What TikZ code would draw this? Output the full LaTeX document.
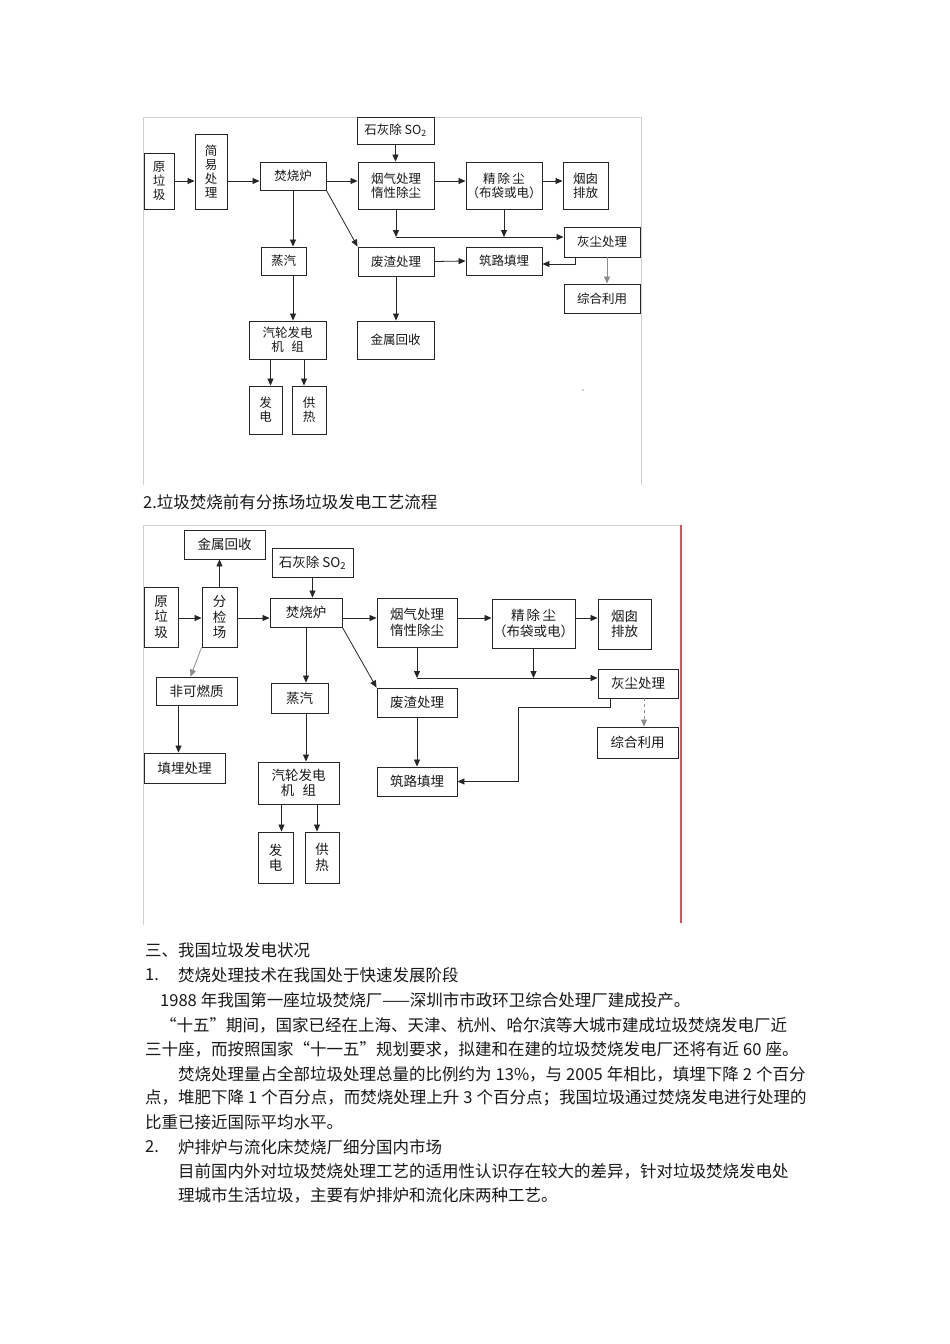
\documentclass[tikz,border=0pt]{standalone}
\usepackage{fontspec}
\newfontfamily\cjk{Noto Sans CJK SC}
\usetikzlibrary{arrows.meta}
\XeTeXlinebreaklocale "zh"
\XeTeXlinebreakskip=0pt plus 2pt minus 0.5pt
\definecolor{frameRed}{RGB}{214,86,86}
\newcommand{\spreadline}[2]{\hbox to #1{#2}}
\newcommand{\gapsp}{\kern4pt}

\begin{document}
\begin{tikzpicture}[x=1pt, y=-1pt,
    % Styles
    box/.style={rectangle, draw=black!85, line width=0.9pt, inner sep=0pt, align=center, text=black!90, font=\cjk\fontsize{12.5}{14}\selectfont},
    bigbox/.style={box, font=\cjk\fontsize{13.5}{15.5}\selectfont},
    arrow/.style={-{Triangle[length=7pt, width=6pt]}, line width=0.8pt, black!85},
    lightarrow/.style={arrow, black!45},
    frame/.style={black!18, line width=0.8pt},
    para/.style={anchor=west, inner sep=0pt, text=black!90, font=\cjk\fontsize{16.5}{20}\selectfont},
]
\useasboundingbox (0,0) rectangle (950,1344);
\fill[white] (0,0) rectangle (950,1344);

% === FIRST FLOW (direct incineration) ===
\draw[frame] (143,485) -- (143,117) -- (641,117) -- (641,485);

\node[box, minimum width=30pt, minimum height=56pt] (raw1) at (159,181) {原\\垃\\圾};
\node[box, minimum width=32pt, minimum height=75pt] (pre1) at (211,171.5) {简\\易\\处\\理};
\node[box, minimum width=66pt, minimum height=28pt] (furn1) at (293,176) {焚烧炉};
\node[box, minimum width=77pt, minimum height=27pt] (lime1) at (395.5,130.5) {石灰除 SO\textsubscript{2}};
\node[box, minimum width=76pt, minimum height=47pt] (gas1) at (396,185.5) {烟气处理\\惰性除尘};
\node[box, minimum width=76pt, minimum height=47pt] (fine1) at (504,185.5) {精\,除\,尘\\（布袋或电）};
\node[box, minimum width=45pt, minimum height=47pt] (stack1) at (585.5,185.5) {烟囱\\排放};
\node[box, minimum width=45pt, minimum height=28pt] (steam1) at (283.5,261) {蒸汽};
\node[box, minimum width=76pt, minimum height=29pt] (slag1) at (396,261.5) {废渣处理};
\node[box, minimum width=76pt, minimum height=28pt] (road1) at (504,261) {筑路填埋};
\node[box, minimum width=76pt, minimum height=30pt] (ash1) at (602,242) {灰尘处理};
\node[box, minimum width=76pt, minimum height=29pt] (use1) at (602,298.5) {综合利用};
\node[box, minimum width=77pt, minimum height=38pt] (turb1) at (287.5,340) {汽轮发电\\机\hspace{0.6em}组};
\node[box, minimum width=77pt, minimum height=38pt] (metal1) at (395.5,340) {金属回收};
\node[box, minimum width=33pt, minimum height=48pt] (power1) at (265.5,410) {发\\电};
\node[box, minimum width=34pt, minimum height=48pt] (heat1) at (309,410) {供\\热};
\fill[black!25] (583,390) circle (1.2pt);

\coordinate (row1) at (0,181);
\coordinate (bus1) at (0,237);
\draw[arrow] (raw1.east |- row1) -- (pre1.west |- row1);
\draw[arrow] (pre1.east |- row1) -- (furn1.west |- row1);
\draw[arrow] (furn1.east |- row1) -- (gas1.west |- row1);
\draw[arrow] (gas1.east |- row1) -- (fine1.west |- row1);
\draw[arrow] (fine1.east |- row1) -- (stack1.west |- row1);
\draw[arrow] (lime1.south) -- (lime1.south |- gas1.north);
\draw[arrow] (furn1.south) -- (furn1.south |- steam1.north);
\draw[arrow] (furn1.south east) -- (slag1.north west);
\draw[arrow] (gas1.south) -- (gas1.south |- bus1);
\draw[arrow] (fine1.south) -- (fine1.south |- bus1);
\draw[arrow] (gas1.south |- bus1) -- (ash1.west |- bus1);
\draw[arrow] (slag1.east) -- (road1.west);
\draw[arrow] ([xshift=-27pt]ash1.south) |- ([yshift=-3pt]road1.east);
\draw[lightarrow] ([xshift=5pt]ash1.south) -- ([xshift=5pt]use1.north);
\draw[arrow] (furn1.south |- steam1.south) -- (furn1.south |- turb1.north);
\draw[arrow] (slag1.south) -- (slag1.south |- metal1.north);
\draw[arrow] ([xshift=5pt]power1.north |- turb1.south) -- ([xshift=5pt]power1.north);
\draw[arrow] ([xshift=-5pt]heat1.north |- turb1.south) -- ([xshift=-5pt]heat1.north);

\node[para] (cap2) at (143,502) {2.垃圾焚烧前有分拣场垃圾发电工艺流程};

% === SECOND FLOW (with sorting yard) ===
\draw[frame] (143,925) -- (143,525) -- (680,525);
\draw[frameRed, line width=1.6pt] (681,525) -- (681,923);

\node[bigbox, minimum width=81pt, minimum height=29pt] (metal2) at (224.5,544.5) {金属回收};
\node[bigbox, minimum width=81pt, minimum height=29pt] (lime2) at (312.5,562.5) {石灰除 SO\textsubscript{2}};
\node[bigbox, minimum width=34pt, minimum height=60pt] (raw2) at (161,617) {原\\垃\\圾};
\node[bigbox, minimum width=35pt, minimum height=60pt] (sort2) at (219.5,617) {分\\检\\场};
\node[bigbox, minimum width=72pt, minimum height=29pt] (furn2) at (306,612.5) {焚烧炉};
\node[bigbox, minimum width=80pt, minimum height=49pt] (gas2) at (417,622.5) {烟气处理\\惰性除尘};
\node[bigbox, minimum width=83pt, minimum height=49pt] (fine2) at (533.5,623.5) {精\,除\,尘\\（布袋或电）};
\node[bigbox, minimum width=53pt, minimum height=50pt] (stack2) at (624.5,624) {烟囱\\排放};
\node[bigbox, minimum width=81pt, minimum height=28pt] (nonc2) at (196.5,691) {非可燃质};
\node[bigbox, minimum width=57pt, minimum height=30pt] (steam2) at (299.5,698) {蒸汽};
\node[bigbox, minimum width=80pt, minimum height=29pt] (slag2) at (417,702.5) {废渣处理};
\node[bigbox, minimum width=80pt, minimum height=29pt] (ash2) at (638,683.5) {灰尘处理};
\node[bigbox, minimum width=81pt, minimum height=31pt] (use2) at (637.5,742.5) {综合利用};
\node[bigbox, minimum width=81pt, minimum height=30pt] (fill2) at (184.5,768) {填埋处理};
\node[bigbox, minimum width=81pt, minimum height=42pt] (turb2) at (298.5,783) {汽轮发电\\机\hspace{0.6em}组};
\node[bigbox, minimum width=80pt, minimum height=29pt] (road2) at (417,781.5) {筑路填埋};
\node[bigbox, minimum width=35pt, minimum height=51pt] (power2) at (275.5,857.5) {发\\电};
\node[bigbox, minimum width=34pt, minimum height=51pt] (heat2) at (322,857.5) {供\\热};

\coordinate (row2) at (0,618);
\coordinate (bus2) at (0,678);
\coordinate (bend2) at (518,707);
\draw[arrow] (raw2.east |- row2) -- (sort2.west |- row2);
\draw[arrow] (sort2.east |- row2) -- (furn2.west |- row2);
\draw[arrow] (furn2.east |- row2) -- (gas2.west |- row2);
\draw[arrow] (gas2.east |- row2) -- (fine2.west |- row2);
\draw[arrow] (fine2.east |- row2) -- (stack2.west |- row2);
\draw[arrow] (sort2.north) -- (sort2.north |- metal2.south);
\draw[arrow] (lime2.south) -- (lime2.south |- furn2.north);
\draw[lightarrow] (sort2.south west) -- ([xshift=-6pt]nonc2.north);
\draw[arrow] (furn2.south) -- (furn2.south |- steam2.north);
\draw[arrow] (furn2.south east) -- (slag2.north west);
\draw[arrow] (gas2.south) -- (gas2.south |- bus2);
\draw[arrow] (fine2.south) -- (fine2.south |- bus2);
\draw[arrow] (gas2.south |- bus2) -- (ash2.west |- bus2);
\draw[arrow] ([xshift=-28pt]ash2.south) |- (bend2) |- (road2.east);
\draw[lightarrow, dashed] ([xshift=6pt]ash2.south) -- ([xshift=6pt]ash2.south |- use2.north);
\draw[arrow] ([xshift=-18pt]nonc2.south) -- ([xshift=-18pt]nonc2.south |- fill2.north);
\draw[arrow] (furn2.south |- steam2.south) -- (furn2.south |- turb2.north);
\draw[arrow] (slag2.south) -- (road2.north);
\draw[arrow] ([xshift=6pt]power2.north |- turb2.south) -- ([xshift=6pt]power2.north);
\draw[arrow] ([xshift=-5pt]heat2.north |- turb2.south) -- ([xshift=-5pt]heat2.north);

% === BODY TEXT ===
\node[para] (head3) at (145,950) {三、我国垃圾发电状况};
\node[para] (num1) at (145,975) {1.};
\node[para] (item1) at (178,975) {焚烧处理技术在我国处于快速发展阶段};
\node[para] (p1) at (160,1000) {\spreadline{542pt}{1988\gapsp 年我国第一座垃圾焚烧厂——深圳市市政环卫综合处理厂建成投产。}};
\node[para] (p2a) at (160,1025) {\spreadline{648pt}{“十五”期间，国家已经在上海、天津、杭州、哈尔滨等大城市建成垃圾焚烧发电厂近}};
\node[para] (p2b) at (145,1049) {\spreadline{663pt}{三十座，而按照国家“十一五”规划要求，拟建和在建的垃圾焚烧发电厂还将有近\gapsp 60\gapsp 座。}};
\node[para] (p3a) at (178,1074) {\spreadline{630pt}{焚烧处理量占全部垃圾处理总量的比例约为\gapsp 13\%，与\gapsp 2005\gapsp 年相比，填埋下降\gapsp 2\gapsp 个百分}};
\node[para] (p3b) at (145,1098) {\spreadline{663pt}{点，堆肥下降\gapsp 1\gapsp 个百分点，而焚烧处理上升\gapsp 3\gapsp 个百分点；我国垃圾通过焚烧发电进行处理的}};
\node[para] (p3c) at (145,1122) {比重已接近国际平均水平。};
\node[para] (num2) at (145,1147) {2.};
\node[para] (item2) at (178,1147) {炉排炉与流化床焚烧厂细分国内市场};
\node[para] (p4a) at (178,1171) {\spreadline{630pt}{目前国内外对垃圾焚烧处理工艺的适用性认识存在较大的差异，针对垃圾焚烧发电处}};
\node[para] (p4b) at (178,1195) {理城市生活垃圾，主要有炉排炉和流化床两种工艺。};

\end{tikzpicture}
\end{document}
